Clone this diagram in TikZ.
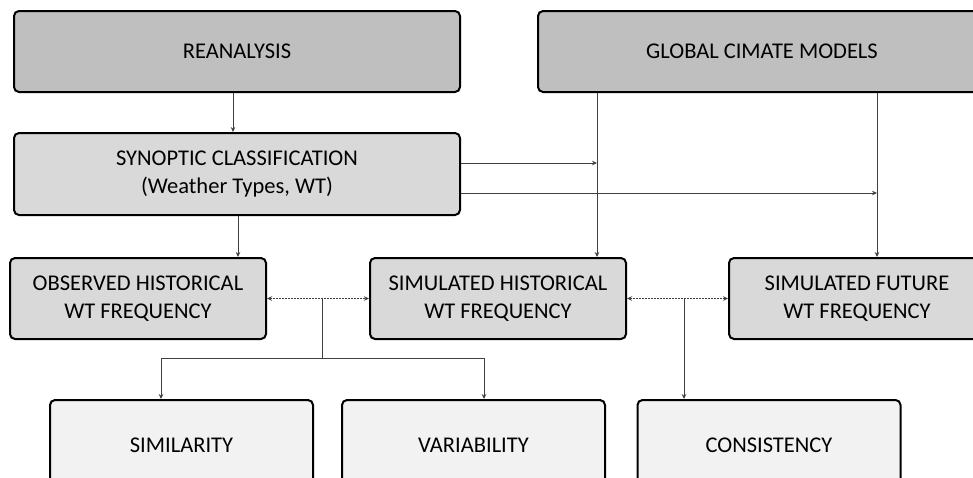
\documentclass[tikz,border=0pt]{standalone}
\usepackage{fontspec}
\setmainfont{Carlito}
\usetikzlibrary{arrows.meta}
\definecolor{topc}{HTML}{BFBFBF}
\definecolor{midc}{HTML}{D9D9D9}
\definecolor{botc}{HTML}{F2F2F2}
\definecolor{linec}{HTML}{404040}
\begin{document}
\begin{tikzpicture}[x=1pt,y=-1pt,
  box/.style={draw=black, line width=2pt, rounded corners=5pt, align=center,
    font=\fontsize{22.5}{28}\selectfont, inner sep=0pt, text=black},
  topbox/.style={box, fill=topc, minimum height=81pt},
  midbox/.style={box, fill=midc, minimum height=81pt, minimum width=256pt},
  botbox/.style={box, fill=botc, minimum height=90pt, minimum width=263pt},
  arr/.style={draw=linec, line width=0.8pt, -{Stealth[length=5pt,width=4.5pt]}},
  ln/.style={draw=linec, line width=0.8pt},
  darr/.style={draw=linec, line width=0.8pt, dash pattern=on 2pt off 1pt,
    {Stealth[length=5pt,width=4.5pt]}-{Stealth[length=5pt,width=4.5pt]}}
]
\useasboundingbox (0,0) rectangle (973,477);
\begin{scope}
\clip (0,0) rectangle (973,477);
\node[topbox, minimum width=446pt] (rea) at (237,51.5) {REANALYSIS};
\node[topbox, minimum width=448pt] (gcm) at (762,51.5) {GLOBAL CIMATE MODELS};
\node[box, fill=midc, minimum width=446pt, minimum height=82pt] (syn) at (237,174)
  {SYNOPTIC CLASSIFICATION\\(Weather Types, WT)};
\node[midbox] (obs) at (138,298.5) {OBSERVED HISTORICAL\\WT FREQUENCY};
\node[midbox] (simh) at (498,298.5) {SIMULATED HISTORICAL\\WT FREQUENCY};
\node[midbox] (simf) at (857,298.5) {SIMULATED FUTURE\\WT FREQUENCY};
\node[botbox] (sim) at (181.5,445) {SIMILARITY};
\node[botbox] (var) at (473.5,445) {VARIABILITY};
\node[botbox] (cons) at (769,445) {CONSISTENCY};

% reanalysis -> synoptic
\draw[arr] ([xshift=-4pt]rea.south) -- ([xshift=-4pt]syn.north);
% synoptic -> observed
\draw[arr] (syn.south -| obs.north east) ++(-29pt,0) coordinate (s1) (s1) -- (s1 |- obs.north);
% GCM -> simulated
\coordinate (ga) at (597,0);
\coordinate (gb) at (877,0);
\draw[arr] (gcm.south -| ga) -- (simh.north -| ga);
\draw[arr] (gcm.south -| gb) -- (simf.north -| gb);
% synoptic -> GCM lines
\coordinate (sy1) at (0,163);
\coordinate (sy2) at (0,193);
\draw[arr] (syn.east |- sy1) -- (ga |- sy1);
\draw[arr] (syn.east |- sy2) -- (gb |- sy2);
% comparisons
\draw[darr] (obs.east) -- (simh.west);
\draw[darr] (simh.east) -- (simf.west);
\coordinate (t1) at (322,298.5);
\coordinate (t2) at (322,358);
\coordinate (t3) at (684,298.5);
\draw[ln] (t1) -- (t2);
\draw[ln] (t2 -| 161,0) -- (t2 -| 484,0);
\draw[arr] (t2 -| 161,0) -- (sim.north -| 161,0);
\draw[arr] (t2 -| 484,0) -- (var.north -| 484,0);
\draw[arr] (t3) -- (t3 |- cons.north);
\end{scope}
\end{tikzpicture}
\end{document}
